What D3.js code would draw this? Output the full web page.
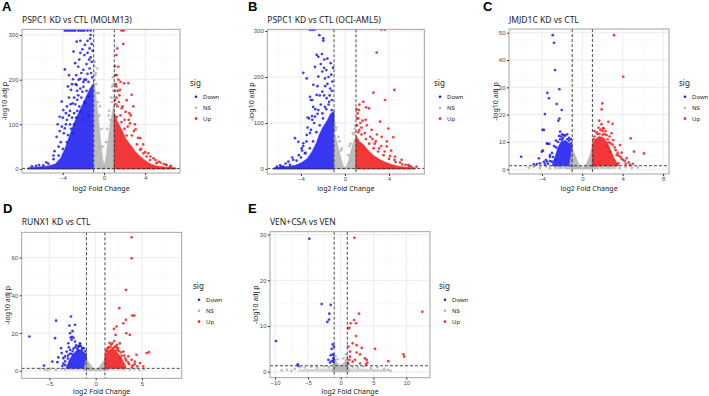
<!DOCTYPE html>
<html>
<head>
<meta charset="utf-8">
<script src="https://cdn.jsdelivr.net/npm/d3@7"></script>
<style>
  body { margin: 0; background: #fff; }
  svg { display: block; font-family: "Noto Sans", "Open Sans", sans-serif; }
  .tick text { fill: #4d4d4d; font-size: 6px; }
  .tick line { stroke: #333; }
  .axis path { display: none; }
  .panel-title { font-size: 8.5px; fill: #1a1a1a; }
  .panel-letter { font-family: "Liberation Sans", Arial, sans-serif; font-weight: bold; font-size: 13px; fill: #000; }
  .axis-title { font-size: 7px; fill: #1a1a1a; }
  .legend-title { font-size: 8px; fill: #1a1a1a; }
  .legend-label { font-size: 6px; fill: #1a1a1a; }
</style>
</head>
<body>
<svg id="fig" width="709" height="396"></svg>
<script>
// ---- data (log2 fold change, -log10 adj p) ----
const sigLevels = ['Down', 'NS', 'Up'];

// A: PSPC1 KD vs CTL (MOLM13)
const aXTicks = [-4, 0, 4];
const aYTicks = [0, 100, 200, 300];
const aDownDense = [[-1,0],[-1,192],[-1.4,178],[-1.8,158],[-2.2,138],[-2.6,118],[-3.0,96],[-3.4,70],[-3.8,44],[-4.2,24],[-4.7,11],[-5.5,6],[-6.5,4],[-7.3,3],[-7.4,0]];
const aDown = [[-2.65,285],[-2.3,287],[-1.6,287],[-1.35,292],[-1.3,300],[-1.85,278],[-2.1,268],[-2.95,263],[-2.3,260],[-1.6,260],
  [-3.8,223],[-2.8,237],[-2.5,229],[-2.0,222],[-3.4,210],[-3.0,201],[-2.3,202],[-1.6,213],[-1.4,225],[-2.65,188],[-2.0,184],
  [-1.5,195],[-4.1,151],[-3.2,177],[-2.1,173],[-1.5,162],[-3.95,132],[-3.05,147],[-2.6,155],[-1.8,147],[-4.3,117],[-3.6,110],
  [-2.9,125],[-2.25,129],[-4.6,72],[-3.8,91],[-3.5,76],[-2.9,100],[-2.1,110],[-1.5,120],[-1.9,150],[-2.4,140],[-2.7,115],
  [-3.2,90],[-3.6,60],[-4.0,45],[-4.4,30],[-4.9,22],[-5.4,12],[-5.9,8],[-6.6,7],[-7.0,6],[-3.0,80],[-2.2,160],[-1.2,240],
  [-1.15,205],[-1.7,175],[-2.6,175],[-3.3,130],[-3.7,100],[-4.2,60],[-4.8,40],[-1.1,265],[-1.25,215],[-3.4,160],[-2.45,200],
  [-3.9,80],[-4.1,95],[-4.4,50],[-4.5,100],[-3.4,120],[-3.1,115],[-2.8,145],[-2.5,165],[-2.3,180],[-1.9,200],[-1.7,235],
  [-1.3,250],[-1.9,255],[-2.7,210],[-3.1,190],[-3.6,140],[-4.0,115],[-3.3,100],[-2.6,130],[-2.0,195],[-1.4,270],[-2.4,245],
  [-3.5,185],[-4.3,85],[-4.9,30],[-5.6,15],[-6.3,9],[-3.7,125],[-2.9,160],[-2.2,215],[-1.75,200],[-1.2,280],[-1.45,245],
  [-2.75,190],[-3.25,145],
  [-3.8,310],[-3.6,310],[-3.4,310],[-3.2,310],[-3.0,310],[-2.8,310],[-2.5,310],[-2.3,310],[-2.1,310],[-1.9,310],[-1.6,310],[-1.3,310]];
const aNSDense = [[-1,0],[-1,200],[-0.8,165],[-0.55,115],[-0.35,65],[-0.15,22],[0,8],[0.15,18],[0.3,45],[0.58,95],[0.84,130],[1,150],[1,0]];
const aNS = [[-0.65,225],[-0.85,210],[-0.5,170],[-0.4,140],[0.85,205],[0.8,185],[0.68,160],[0.45,120],[-0.25,90],[0.3,90],
  [0.9,175],[-0.75,190],[-0.95,230],[0.95,160],[0.6,110],[-0.9,200],[-0.7,170],[-0.6,150],[-0.45,120],[0.5,130],[0.75,150],
  [0.95,190],[0.2,60],[-0.15,50],[-0.9,240],[-0.8,215]];
const aUpDense = [[1,0],[1,125],[1.3,106],[1.7,88],[2.1,68],[2.6,52],[3.1,37],[3.6,26],[4.1,17],[4.6,10],[5.2,6],[6.0,4],[6.9,3],[7.0,0]];
const aUp = [[1.29,270],[1.88,280],[1.39,229],[1.23,210],[1.94,192],[2.36,192],[1.55,177],[2.2,154],[2.69,166],[2.85,140],
  [2.46,125],[3.07,89],[2.52,102],[1.23,117],[1.07,154],[1.72,136],[3.5,69],[3.82,35],[4.14,28],[4.47,20],[3.5,43],[5.1,13],
  [6.08,9],[6.4,5],[1.1,175],[1.2,160],[1.45,150],[1.6,120],[2.0,110],[2.3,95],[2.7,75],[3.2,55],[3.6,45],[4.0,38],[4.5,28],
  [5.0,20],[5.5,14],[6.0,10],[6.5,7],[1.05,230],[1.2,255],[1.4,200],[1.8,140],[2.1,128],[1.15,190],
  [1.3,140],[1.5,165],[1.7,105],[2.0,90],[2.4,110],[2.9,85],[3.3,70],[3.8,55],[4.3,35],[4.8,24],[1.2,185],[1.35,175],
  [2.6,120],[3.0,100],[2.2,75],[5.3,16],[5.8,11],[1.1,210],[1.6,195],[1.15,145],[1.7,310],[1.9,310]];

// B: PSPC1 KD vs CTL (OCI-AML5)
const bXTicks = [-4, 0, 4];
const bYTicks = [0, 100, 200, 300];
const bDownDense = [[-1,0],[-1,125],[-1.3,120],[-1.6,106],[-2.0,90],[-2.3,76],[-2.6,56],[-3.0,37],[-3.4,23],[-3.9,14],[-4.5,8],[-5.3,5],[-6.4,3],[-6.5,0]];
const bDown = [[-2.33,291],[-1.97,284],[-1.97,279],[-2.58,248],[-2.42,244],[-1.88,238],[-2.73,222],[-3.79,209],[-3.48,197],
  [-2.88,183],[-2.42,201],[-2.06,212],[-1.82,197],[-3.18,157],[-2.97,150],[-2.58,161],[-2.06,168],[-1.67,154],[-1.45,146],
  [-3.27,110],[-2.97,107],[-2.73,114],[-2.42,128],[-2.06,121],[-1.82,135],[-1.21,128],[-4.55,67],[-4.24,59],[-3.79,56],
  [-3.48,74],[-3.18,78],[-3.94,45],[-3.64,34],[-4.7,20],[-5.15,16],[-5.6,5],[-6.2,5],[-1.2,150],[-1.5,140],[-1.35,175],
  [-1.15,190],[-1.6,185],[-1.9,160],[-2.2,140],[-2.5,120],[-2.8,100],[-3.1,85],[-3.5,60],[-3.9,40],[-4.2,30],[-4.8,25],
  [-5.4,12],[-5.9,8],[-1.3,230],[-1.7,215],[-2.1,250],[-2.2,228],[-2.9,135],[-3.1,150],[-3.4,112],
  [-1.2,170],[-1.4,160],[-1.7,130],[-2.0,110],[-2.3,95],[-2.6,80],[-2.9,60],[-3.2,45],[-3.6,35],[-4.0,25],[-4.4,18],
  [-1.5,200],[-1.8,180],[-2.3,160],[-2.7,130],[-3.0,115],[-3.4,90],[-3.8,50],[-1.1,220],[-1.25,205],[-1.6,240],[-1.9,220],
  [-2.5,180],[-5.0,9],[-5.8,6],
  [-3.2,303],[-3.05,303],[-2.9,303],[-2.75,303]];
const bNSDense = [[-1,0],[-1,82],[-0.8,64],[-0.55,40],[-0.3,16],[-0.12,4],[0.1,3],[0.3,15],[0.55,40],[0.8,60],[1,70],[1,0]];
const bNS = [[-0.95,92],[-0.6,70],[0.7,78],[0.9,88],[-0.3,45],[0.4,50],[-0.85,85],[0.95,80],[-0.8,90],[-0.5,60],[-0.35,40],
  [0.3,30],[0.5,55],[0.8,75],[-0.9,100],[0.95,95]];
const bUpDense = [[1,0],[1,72],[1.3,60],[1.7,52],[2.1,40],[2.6,29],[3.1,21],[3.6,15],[4.2,10],[4.8,6],[5.5,4],[6.3,3],[6.4,0]];
const bUp = [[2.88,253],[4.48,172],[3.64,150],[2.58,166],[1.67,146],[1.91,134],[2.18,132],[1.27,128],[1.15,121],[3.18,103],
  [3.94,88],[4.39,69],[4.55,27],[3.33,70],[2.42,85],[1.88,107],[3.79,49],[5.15,20],[5.76,9],[6.5,5],[1.1,95],[1.3,85],
  [1.5,75],[1.9,65],[2.2,55],[2.6,45],[3.0,38],[3.5,30],[4.0,22],[4.6,15],[5.2,10],[5.8,7],[1.05,130],[1.2,110],[2.0,95],
  [2.8,60],[3.3,50],[4.2,40],[1.4,100],[1.2,80],[1.5,90],[1.8,78],[2.3,70],[2.7,55],[3.1,45],[3.6,38],[4.1,28],[4.5,20],
  [5.0,14],[5.5,9],[6.0,6],[1.1,110],[1.6,105],[2.5,65],[3.8,60],[1.3,140],[2.9,75],[3.3,303],[3.6,303]];

// C: JMJD1C KD vs CTL
const cXTicks = [-4, 0, 4, 8];
const cYTicks = [0, 10, 20, 30, 40, 50];
const cDownDense = [[-1,1.3],[-1,8.5],[-1.3,9.5],[-1.7,10.5],[-2.1,10],[-2.4,8],[-2.6,5.5],[-2.8,3.2],[-3.0,1.3]];
const cDown = [[-2.93,49.1],[-2.8,46.3],[-2.7,36.3],[-2.27,29.3],[-3.46,28],[-3.3,26],[-2.54,23.9],[-2.04,21.7],[-3.7,20.2],
  [-2.27,18.6],[-2.37,17.8],[-2.2,13.8],[-3.93,14.4],[-3.8,14.4],[-3.46,9.5],[-3.27,9.3],[-4.0,6.5],[-6.06,4.6],[-4.2,2.2],
  [-4.5,1.9],[-3.2,5.2],[-3.6,3.4],[-3.0,2.8],[-2.7,3.4],[-1.9,11.5],[-2.1,12],[-1.5,11],[-1.3,10.5],[-2.4,10],[-2.6,8],
  [-2.2,11],[-1.7,12.3],[-2.0,10.8],[-1.1,9.5],[-3.2,3],[-3.4,2],[-2.9,4.5],[-4.3,4],[-3.8,2.7],[-4.8,1.8],[-3.9,6.8],[-3.5,9.4],
  [-1.3,11.5],[-1.8,12.5],[-2.3,12.2],[-2.6,10.5],[-2.8,8.5],[-3.0,6],[-3.2,4.5],[-3.5,2.8],[-3.7,1.8],[-1.1,11],[-1.5,12.8],[-2.0,12.8]];
const cNSBand = [[-2.8,0.1],[-2.8,1.2],[3.4,1.2],[3.4,0.1]];
const cNSDense = [[-1.3,0.2],[-1,7.5],[-0.7,5],[-0.4,2.2],[-0.15,0.6],[0,0.3],[0.2,0.6],[0.45,2.4],[0.75,5],[1,8],[1.3,0.2]];
const cNS = [[-5.3,0.6],[-4.8,0.9],[-4.2,0.5],[-3.6,1.0],[-3.2,0.4],[-2.7,0.8],[-2.2,0.6],[-1.8,1.0],[-1.5,0.4],[1.5,0.5],
  [2.0,0.9],[2.6,0.6],[3.1,1.0],[3.7,0.4],[4.3,0.8],[4.9,0.5],[5.5,0.7]];
const cUpDense = [[1,1.3],[1,9.5],[1.3,11],[1.7,12],[2.1,11.5],[2.5,9.5],[2.8,7],[3.1,4.3],[3.4,2.4],[3.6,1.3]];
const cUp = [[3.14,49.1],[4.06,33.9],[1.98,24.1],[1.91,21.9],[1.68,17.8],[2.58,17.4],[3.0,16.6],[2.08,15],[2.9,13.2],
  [2.02,12.6],[4.79,11.3],[3.07,10.7],[3.73,8.9],[3.9,6.1],[5.12,6.5],[6.11,5.8],[4.39,4],[4.06,3.4],[3.4,5.2],[4.72,1.6],
  [2.74,6.5],[3.56,2.2],[2.41,8.3],[1.5,13],[1.8,14.5],[1.2,12],[2.2,13],[2.5,11],[2.8,9.5],[3.2,8],[3.5,6],[3.8,4.5],
  [4.2,3],[4.6,2.5],[5.0,2],[1.6,15.2],[2.3,14],[1.9,16.5],[1.1,11],[1.4,13.5],[1.7,13],[2.0,14],[2.4,12.5],[2.6,10],
  [3.0,9],[3.3,7],[3.6,5],[3.9,3.8],[4.3,2],[1.2,14],[2.1,15],[2.7,12]];

// D: RUNX1 KD vs CTL
const dXTicks = [-5, 0, 5];
const dYTicks = [0, 20, 40, 60];
const dDownDense = [[-1,1.3],[-1,8.5],[-1.3,10],[-1.7,11],[-2.1,10.5],[-2.5,8.5],[-2.8,6],[-3.0,3.8],[-3.2,1.3]];
const dDown = [[-7.16,18.2],[-4.28,26.6],[-4.39,17.3],[-5.58,2.8],[-4.68,4.9],[-2.67,28.8],[-2.84,24],[-2.23,24.4],
  [-2.77,19.9],[-2.7,17.6],[-2.95,14.6],[-2.6,16.4],[-3.74,12],[-3.67,9.4],[-4.03,7.1],[-3.5,6.7],[-2.23,15.5],[-1.87,12.9],
  [-1.7,14.6],[-1.51,11.1],[-3.13,10.2],[-2.77,11.1],[-4.14,4.6],[-3.31,7.6],[-1.3,12],[-1.9,11],[-2.4,11.8],[-2.6,9],
  [-3.0,8],[-3.3,5],[-3.5,3.8],[-2.1,13.5],[-2.9,12.5],[-1.6,13],[-2.5,21],[-2.4,17.5],[-2.55,18],
  [-1.1,10.5],[-1.4,12],[-1.8,13],[-2.2,12.5],[-2.5,10.5],[-2.8,9],[-3.0,6.5],[-3.3,3],[-3.6,2.5],[-1.7,14],[-2.0,11.8]];
const dNSBand = [[-3,0.1],[-3,1.2],[3.3,1.2],[3.3,0.1]];
const dNSDense = [[-1.3,0.2],[-1,6],[-0.65,3.8],[-0.35,1.6],[0,0.3],[0.35,1.6],[0.65,3.8],[1,6],[1.3,0.2]];
const dNS = [[-5.5,0.6],[-4.9,1.0],[-4.3,0.4],[-3.7,0.9],[-3.3,0.5],[3.7,0.6],[4.2,1.0],[4.7,0.4],[5.2,0.8],[-6.0,1.0],[-5.2,0.3]];
const dUpDense = [[1,1.3],[1,8.5],[1.3,10.5],[1.7,11.5],[2.1,11],[2.5,8.5],[2.8,6.5],[3.1,3.8],[3.3,1.3]];
const dUp = [[3.88,70.8],[3.88,59.6],[3.27,42.9],[2.55,33.2],[3.95,29.3],[4.17,29.3],[3.27,27],[2.98,25.2],[2.26,23.5],
  [1.97,22.2],[2.15,19],[3.31,19.9],[3.68,19],[1.65,13.8],[1.9,12],[2.33,11.1],[5.5,9.4],[5.75,9.9],[4.4,8.5],[2.98,10.2],
  [3.88,5.8],[4.24,4.9],[4.78,4.1],[5.14,2.3],[3.52,7.6],[2.62,6.7],[1.4,12.5],[1.8,14.5],[2.1,13],[2.4,12],[1.2,11],
  [2.7,9.8],[3.1,8],[3.3,5.5],[3.6,3.5],[4.0,2.8],[4.5,2.3],[2.0,15.8],[2.6,14.5],
  [1.1,10.5],[1.3,12],[1.6,12.5],[2.2,12.5],[2.5,10.5],[2.8,8],[3.2,6.5],[3.5,4.5],[3.9,2],[4.2,3.5],[1.5,14.8],[2.3,13.8]];

// E: VEN+CSA vs VEN
const eXTicks = [-10, -5, 0, 5, 10];
const eYTicks = [0, 10, 20, 30];
const eDown = [[-4.78,29.1],[-2.9,14.8],[-1.53,14.6],[-1.73,12.7],[-1.78,11.4],[-2.04,10.9],[-9.87,6.7],[-6.56,1.6],
  [-6.46,1.3],[-1.22,6.0],[-1.02,5.5],[-1.38,5.0],[-1.22,3.8],[-1.53,3.6],[-1.02,3.5],[-1.12,2.9],[-1.88,2.6],[-1.63,2.0],
  [-1.38,2.3],[-1.02,2.6],[-1.12,2.2]];
const eNSBand = [[-6.5,0],[-6.5,0.5],[-3,0.7],[3,0.7],[7,0.5],[7,0]];
const eNSDense = [[-1.3,0],[-1.05,3.2],[-0.6,2],[0,1.2],[0.6,2.2],[1.05,3.6],[1.3,0]];
const eNS = [[-9.0,0.3],[-8.2,0.4],[-7.5,0.2],[-7.0,0.6],[-6.2,1.0],[-5.5,0.9],[-4.5,1.1],[-3.6,0.9],[-2.5,1.2],[-1.8,1.0],
  [1.8,1.1],[2.6,0.9],[3.5,1.2],[4.6,0.8],[5.6,1.0],[6.6,0.6],[7.6,0.2],[7.2,0.4],[-0.5,2.7],[0.4,2.9],[0.8,3.8],[-0.8,3.4]];
const eUp = [[2.09,29.3],[2.79,12.7],[12.44,13.1],[2.03,11.3],[2.33,10.6],[1.52,10.6],[1.31,9.6],[1.16,9.5],[2.33,7.8],
  [1.82,6.2],[2.43,5.8],[3.2,5.2],[1.16,5.5],[5.23,5.0],[1.42,4.4],[2.43,4.2],[2.94,3.8],[3.7,2.9],[3.96,2.6],[9.55,3.8],
  [9.66,3.3],[7.26,2.3],[4.07,2.0],[2.94,1.8],[1.82,2.2],[1.31,2.6],[1.42,3.3],[1.16,1.8],[2.18,2.6],[3.86,1.6]];

// ---- styling / layout ----
const sigColor = {Down: '#1c1cf0', NS: '#b3b3b3', Up: '#f01c1c'};
const fcCut = [-1, 1];
const padjCut = 1.3;

const panels = [
  {letter: 'A', title: 'PSPC1 KD vs CTL (MOLM13)', left: 22, right: 180, top: 29.3, bottom: 173,
   xDomain: [-7.961, 7.379], yDomain: [-8.96, 312.8], xTicks: aXTicks, yTicks: aYTicks, ylabX: 4, xlabY: 191,
   letterX: 2, letterY: 11, titleY: 23, legX: 190, legY: 86, bands: [],
   dense: {Down: [aDownDense], NS: [aNSDense], Up: [aUpDense]}, pts: {Down: aDown, NS: aNS, Up: aUp}},
  {letter: 'B', title: 'PSPC1 KD vs CTL (OCI-AML5)', left: 267.3, right: 424.3, top: 29.3, bottom: 174,
   xDomain: [-7.064, 7.209], yDomain: [-10.87, 303.7], xTicks: bXTicks, yTicks: bYTicks, ylabX: 251, xlabY: 191,
   letterX: 248, letterY: 11, titleY: 23, legX: 434, legY: 86, bands: [],
   dense: {Down: [bDownDense], NS: [bNSDense], Up: [bUpDense]}, pts: {Down: bDown, NS: bNS, Up: bUp}},
  {letter: 'C', title: 'JMJD1C KD vs CTL', left: 509, right: 669, top: 29, bottom: 174,
   xDomain: [-7.257, 8.584], yDomain: [-1.72, 51.35], xTicks: cXTicks, yTicks: cYTicks, ylabX: 495, xlabY: 191,
   letterX: 483, letterY: 11, titleY: 23, legX: 679, legY: 86, bands: [cNSBand],
   dense: {Down: [cDownDense], NS: [cNSDense], Up: [cUpDense]}, pts: {Down: cDown, NS: cNS, Up: cUp}},
  {letter: 'D', title: 'RUNX1 KD vs CTL', left: 21.7, right: 181.7, top: 232.3, bottom: 378.3,
   xDomain: [-7.991, 9.287], yDomain: [-3.97, 73.42], xTicks: dXTicks, yTicks: dYTicks, ylabX: 7.5, xlabY: 394,
   letterX: 3, letterY: 213, titleY: 225, legX: 193, legY: 289, bands: [dNSBand],
   dense: {Down: [dDownDense], NS: [dNSDense], Up: [dUpDense]}, pts: {Down: dDown, NS: dNS, Up: dUp}},
  {letter: 'E', title: 'VEN+CSA vs VEN', left: 270, right: 430, top: 231.7, bottom: 377.7,
   xDomain: [-10.78, 13.61], yDomain: [-1.31, 30.63], xTicks: eXTicks, yTicks: eYTicks, ylabX: 255, xlabY: 394,
   letterX: 248, letterY: 213, titleY: 225, legX: 439, legY: 289, bands: [eNSBand],
   dense: {Down: [], NS: [eNSDense], Up: []}, pts: {Down: eDown, NS: eNS, Up: eUp}}
];

const svg = d3.select('#fig');

function minorTicks(ticks, domain) {
  const step = ticks[1] - ticks[0];
  const out = [];
  for (let v = ticks[0] - step / 2; v <= domain[1]; v += step) if (v >= domain[0]) out.push(v);
  return out;
}

function drawPanel(p, i) {
  const x = d3.scaleLinear().domain(p.xDomain).range([p.left, p.right]);
  const y = d3.scaleLinear().domain(p.yDomain).range([p.bottom, p.top]);
  const g = svg.append('g');

  g.append('clipPath').attr('id', 'clip' + i)
    .append('rect').attr('x', p.left).attr('y', p.top)
    .attr('width', p.right - p.left).attr('height', p.bottom - p.top);

  // grid
  const grid = g.append('g');
  grid.selectAll('.gx-minor').data(minorTicks(p.xTicks, p.xDomain)).join('line')
    .attr('x1', d => x(d)).attr('x2', d => x(d)).attr('y1', p.top).attr('y2', p.bottom)
    .attr('stroke', '#f2f2f2').attr('stroke-width', 0.5);
  grid.selectAll('.gy-minor').data(minorTicks(p.yTicks, p.yDomain)).join('line')
    .attr('y1', d => y(d)).attr('y2', d => y(d)).attr('x1', p.left).attr('x2', p.right)
    .attr('stroke', '#f2f2f2').attr('stroke-width', 0.5);
  grid.selectAll('.gx').data(p.xTicks).join('line')
    .attr('x1', d => x(d)).attr('x2', d => x(d)).attr('y1', p.top).attr('y2', p.bottom)
    .attr('stroke', '#e6e6e6').attr('stroke-width', 0.8);
  grid.selectAll('.gy').data(p.yTicks).join('line')
    .attr('y1', d => y(d)).attr('y2', d => y(d)).attr('x1', p.left).attr('x2', p.right)
    .attr('stroke', '#e6e6e6').attr('stroke-width', 0.8);

  // point clouds: solid cores where points overlap, then the individual points
  const plot = g.append('g').attr('clip-path', `url(#clip${i})`);
  const area = d3.line().x(d => x(d[0])).y(d => y(d[1])).curve(d3.curveLinearClosed);
  plot.append('g').selectAll('path').data(p.bands).join('path')
    .attr('d', area).attr('fill', sigColor.NS).attr('fill-opacity', 0.55);
  sigLevels.forEach(s => {
    plot.append('g').selectAll('path').data(p.dense[s]).join('path')
      .attr('d', area)
      .attr('fill', sigColor[s]).attr('fill-opacity', 0.88)
      .attr('stroke', sigColor[s]).attr('stroke-width', 1.4).attr('stroke-opacity', 0.5)
      .attr('stroke-linejoin', 'round');
  });
  sigLevels.forEach(s => {
    plot.append('g').selectAll('circle').data(p.pts[s]).join('circle')
      .attr('cx', d => x(d[0])).attr('cy', d => y(d[1])).attr('r', 1.35)
      .attr('fill', sigColor[s]).attr('fill-opacity', 0.85);
  });

  // threshold lines
  g.selectAll('.vcut').data(fcCut).join('line')
    .attr('x1', d => x(d)).attr('x2', d => x(d)).attr('y1', p.top).attr('y2', p.bottom)
    .attr('stroke', '#333').attr('stroke-width', 0.9).attr('stroke-dasharray', '3,2');
  g.append('line')
    .attr('x1', p.left).attr('x2', p.right).attr('y1', y(padjCut)).attr('y2', y(padjCut))
    .attr('stroke', '#333').attr('stroke-width', 0.9).attr('stroke-dasharray', '3,2');

  // border
  g.append('rect').attr('x', p.left).attr('y', p.top)
    .attr('width', p.right - p.left).attr('height', p.bottom - p.top)
    .attr('fill', 'none').attr('stroke', '#9a9a9a').attr('stroke-width', 0.9);

  // axes
  g.append('g').attr('class', 'axis')
    .attr('transform', `translate(0,${p.bottom})`)
    .call(d3.axisBottom(x).tickValues(p.xTicks).tickSize(2).tickPadding(1));
  g.append('g').attr('class', 'axis')
    .attr('transform', `translate(${p.left},0)`)
    .call(d3.axisLeft(y).tickValues(p.yTicks).tickSize(2).tickPadding(1.5));

  // texts
  g.append('text').attr('class', 'panel-letter').attr('x', p.letterX).attr('y', p.letterY).text(p.letter);
  g.append('text').attr('class', 'panel-title').attr('x', p.left).attr('y', p.titleY).text(p.title);
  g.append('text').attr('class', 'axis-title')
    .attr('x', (p.left + p.right) / 2).attr('y', p.xlabY)
    .attr('text-anchor', 'middle').text('log2 Fold Change');
  g.append('text').attr('class', 'axis-title')
    .attr('transform', `translate(${p.ylabX},${(p.top + p.bottom) / 2}) rotate(-90)`)
    .attr('text-anchor', 'middle').attr('dominant-baseline', 'central')
    .text('-log10 adj p');

  // legend
  const leg = g.append('g');
  leg.append('text').attr('class', 'legend-title').attr('x', p.legX).attr('y', p.legY).text('sig');
  const rows = leg.selectAll('.row').data(sigLevels).join('g')
    .attr('transform', (d, k) => `translate(${p.legX},${p.legY + 10.8 + k * 10.9})`);
  rows.append('circle').attr('cx', 6).attr('cy', 0).attr('r', 1.3).attr('fill', d => sigColor[d]);
  rows.append('text').attr('class', 'legend-label').attr('x', 13).attr('y', 0)
    .attr('dominant-baseline', 'central').text(d => d);
}

panels.forEach(drawPanel);
</script>
</body>
</html>
